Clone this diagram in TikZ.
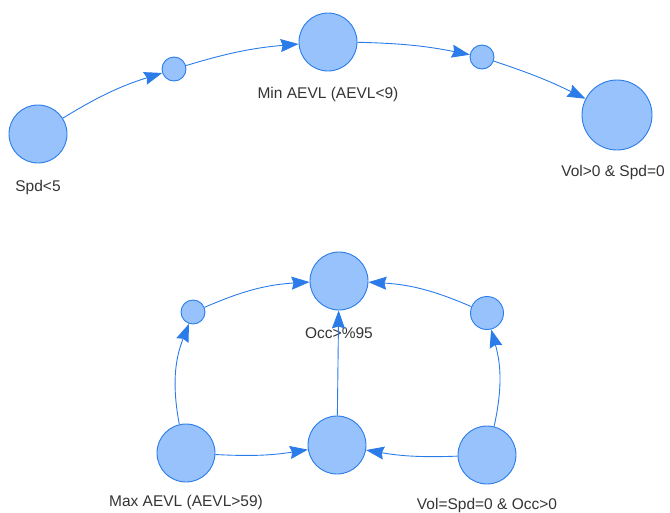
\documentclass[tikz,border=0pt]{standalone}
\usepackage{fontspec}
\setmainfont{Liberation Sans}
\usetikzlibrary{arrows.meta}
\definecolor{nodefill}{HTML}{97C2FC}
\definecolor{nodeline}{HTML}{2B7CE9}
\definecolor{edgeblue}{HTML}{2B7CE9}
\definecolor{labeltext}{HTML}{343434}
\tikzset{
  state/.style={circle, draw=nodeline, fill=nodefill, line width=0.9pt, inner sep=0pt, minimum size=58pt},
  bigstate/.style={state, minimum size=70pt},
  hub/.style={state, minimum size=24pt},
  midhub/.style={state, minimum size=33pt},
  caption/.style={text=labeltext, font=\fontsize{15.5}{18}\selectfont, inner sep=0pt},
  flow/.style={draw=edgeblue, line width=0.9pt, -{Stealth[length=18pt, width=13pt, inset=2pt]}}
}
\begin{document}
\begin{tikzpicture}[x=1pt, y=-1pt]
\useasboundingbox (0,0) rectangle (670,512);

% upper chain
\node[state]    (spd)   at (38,134)  {};
\node[hub]      (h1)    at (174,69)  {};
\node[state]    (minA)  at (328,42)  {};
\node[hub]      (h2)    at (482,57)  {};
\node[bigstate] (vol)   at (617,115) {};

\node[caption] (spdL)  at (38,187)  {Spd<5};
\node[caption] (minAL) at (328,94)  {Min AEVL (AEVL<9)};
\node[caption] (volL)  at (613,172) {Vol>0 \& Spd=0};

\draw[flow] (spd)  to[bend left=7] (h1);
\draw[flow] (h1)   to[bend left=6] (minA);
\draw[flow] (minA) to[bend left=5] (h2);
\draw[flow] (h2)   to[bend left=4] (vol);

% lower loop
\node[state]  (occ)  at (339,281) {};
\node[hub]    (h3)   at (193,312) {};
\node[midhub] (h4)   at (487,313) {};
\node[state]  (maxA) at (186,453) {};
\node[state]  (mid)  at (337,445) {};
\node[state]  (vss)  at (487,455) {};

\node[caption] (occL)  at (339,333) {Occ>\%95};
\node[caption] (maxAL) at (186,502) {Max AEVL (AEVL>59)};
\node[caption] (vssL)  at (487,505) {Vol=Spd=0 \& Occ>0};

\draw[flow] (maxA) to[bend left=16]  (h3);
\draw[flow] (h3)   to[bend left=10]  (occ);
\draw[flow] (vss)  to[bend right=14] (h4);
\draw[flow] (h4)   to[bend right=10] (occ);
\draw[flow] (maxA) to[bend right=6]  (mid);
\draw[flow] (vss)  to[bend left=6]   (mid);
\draw[flow] (mid)  -- (occ);
\end{tikzpicture}
\end{document}
